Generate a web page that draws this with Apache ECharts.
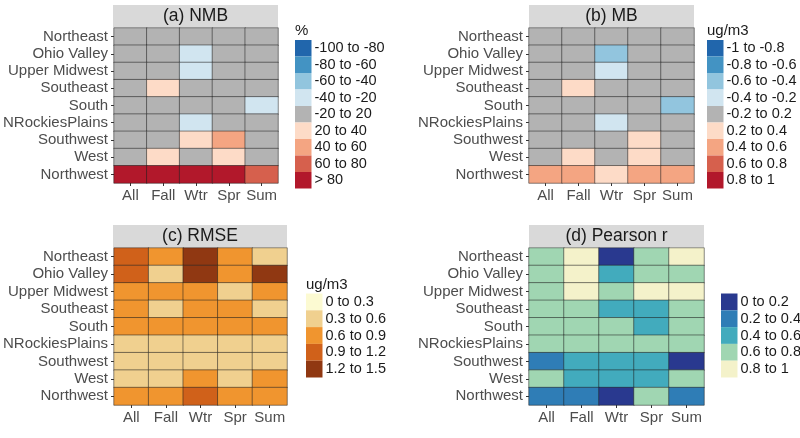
<!DOCTYPE html>
<html><head><meta charset="utf-8">
<script src="https://cdn.jsdelivr.net/npm/echarts@6/dist/echarts.min.js"></script>
<style>html,body{margin:0;padding:0;background:#fff}#c{width:800px;height:438px}</style>
</head><body><div id="c"></div>
<script>
// ---- data (rows: regions top->bottom, cols: seasons) ----
const regions = ['Northeast','Ohio Valley','Upper Midwest','Southeast','South','NRockiesPlains','Southwest','West','Northwest'];
const seasons = ['All','Fall','Wtr','Spr','Sum'];

// NMB (%), values estimated at bin midpoints
const nmbValues = [
  [0, 0, 0, 0, 0],
  [0, 0, -30, 0, 0],
  [0, 0, -30, 0, 0],
  [0, 30, 0, 0, 0],
  [0, 0, 0, 0, -30],
  [0, 0, -30, 0, 0],
  [0, 0, 30, 50, 0],
  [0, 30, 0, 30, 0],
  [90, 90, 90, 90, 70]
];
// MB (ug/m3)
const mbValues = [
  [0, 0, 0, 0, 0],
  [0, 0, -0.5, 0, 0],
  [0, 0, -0.3, 0, 0],
  [0, 0.3, 0, 0, 0],
  [0, 0, 0, 0, -0.5],
  [0, 0, -0.3, 0, 0],
  [0, 0, 0, 0.3, 0],
  [0, 0.3, 0, 0.3, 0],
  [0.5, 0.5, 0.3, 0.5, 0.5]
];
// RMSE (ug/m3)
const rmseValues = [
  [1.05, 0.75, 1.35, 0.75, 0.45],
  [1.05, 0.45, 1.35, 0.75, 1.35],
  [0.75, 0.75, 0.75, 0.45, 0.75],
  [0.75, 0.45, 0.75, 0.75, 0.45],
  [0.75, 0.75, 0.75, 0.75, 0.75],
  [0.45, 0.45, 0.45, 0.45, 0.45],
  [0.45, 0.45, 0.45, 0.45, 0.45],
  [0.45, 0.45, 0.75, 0.45, 0.75],
  [0.75, 0.75, 1.05, 0.75, 0.75]
];
// Pearson r
const rValues = [
  [0.7, 0.9, 0.1, 0.7, 0.9],
  [0.7, 0.9, 0.5, 0.7, 0.7],
  [0.7, 0.9, 0.7, 0.9, 0.9],
  [0.7, 0.7, 0.5, 0.5, 0.7],
  [0.7, 0.7, 0.7, 0.5, 0.7],
  [0.7, 0.7, 0.7, 0.7, 0.7],
  [0.3, 0.5, 0.5, 0.5, 0.1],
  [0.7, 0.5, 0.5, 0.5, 0.7],
  [0.3, 0.3, 0.1, 0.7, 0.3]
];

// ---- legend bins ----
const nmbEdges = [-100, -80, -60, -40, -20, 20, 40, 60, 80, Infinity];
const nmbLabels = ['-100 to -80','-80 to -60','-60 to -40','-40 to -20','-20 to 20','20 to 40','40 to 60','60 to 80','> 80'];
const mbEdges = [-1, -0.8, -0.6, -0.4, -0.2, 0.2, 0.4, 0.6, 0.8, 1];
const mbLabels = ['-1 to -0.8','-0.8 to -0.6','-0.6 to -0.4','-0.4 to -0.2','-0.2 to 0.2','0.2 to 0.4','0.4 to 0.6','0.6 to 0.8','0.8 to 1'];
const divColors = ['#2166AC','#4393C3','#92C5DE','#D1E5F0','#B3B3B3','#FDDBC7','#F4A582','#D6604D','#B2182B'];
const rmseEdges = [0, 0.3, 0.6, 0.9, 1.2, 1.5];
const rmseLabels = ['0 to 0.3','0.3 to 0.6','0.6 to 0.9','0.9 to 1.2','1.2 to 1.5'];
const rmseColors = ['#FCFAD2','#F0D08F','#F0952F','#D0611A','#903812'];
const rEdges = [0, 0.2, 0.4, 0.6, 0.8, 1];
const rLabels = ['0 to 0.2','0.2 to 0.4','0.4 to 0.6','0.6 to 0.8','0.8 to 1'];
const rColors = ['#29398F','#2F7DB6','#42ABBD','#A0D6B2','#F4F2CA'];

const FONT = '"Liberation Sans", Arial, Helvetica, sans-serif';

function makePieces(edges, labels, colors) {
  return labels.map((lab, i) => {
    const p = { label: lab, color: colors[i], gte: edges[i] };
    if (isFinite(edges[i + 1])) p.lt = edges[i + 1];
    return p;
  });
}
function toCells(mat) {
  const out = [];
  mat.forEach((row, yi) => row.forEach((v, xi) => out.push([xi, yi, v])));
  return out;
}

const panels = [
  { title: '(a) NMB', values: nmbValues, pieces: makePieces(nmbEdges, nmbLabels, divColors),
    grid: { left: 113, top: 28, width: 165, height: 155 },
    leg: { left: 295, top: 40, ih: 16.5 }, legTitle: { text: '%', x: 295, y: 31 } },
  { title: '(b) MB', values: mbValues, pieces: makePieces(mbEdges, mbLabels, divColors),
    grid: { left: 529, top: 28, width: 165, height: 155 },
    leg: { left: 707, top: 40, ih: 16.5 }, legTitle: { text: 'ug/m3', x: 707, y: 31 } },
  { title: '(c) RMSE', values: rmseValues, pieces: makePieces(rmseEdges, rmseLabels, rmseColors),
    grid: { left: 113, top: 248, width: 174, height: 157 },
    leg: { left: 306, top: 293.5, ih: 16.8 }, legTitle: { text: 'ug/m3', x: 306, y: 285 } },
  { title: '(d) Pearson r', values: rValues, pieces: makePieces(rEdges, rLabels, rColors),
    grid: { left: 529, top: 248, width: 175, height: 157 },
    leg: { left: 721, top: 293.5, ih: 16.8 }, legTitle: null }
];

const option = {
  animation: false,
  backgroundColor: '#ffffff',
  textStyle: { fontFamily: FONT },
  grid: [], xAxis: [], yAxis: [], series: [], visualMap: [], graphic: []
};

panels.forEach((p, i) => {
  option.grid.push(Object.assign({ containLabel: false }, p.grid));
  option.xAxis.push({
    type: 'category', gridIndex: i, data: seasons, position: 'bottom',
    axisLine: { show: false },
    axisTick: { show: true, alignWithLabel: true, length: 3, lineStyle: { color: '#333333', width: 1 } },
    axisLabel: { color: '#4D4D4D', fontSize: 15, fontFamily: FONT, margin: 5, interval: 0 },
    splitLine: { show: false }
  });
  option.yAxis.push({
    type: 'category', gridIndex: i, data: regions, inverse: true,
    axisLine: { show: false },
    axisTick: { show: true, alignWithLabel: true, length: 3, lineStyle: { color: '#333333', width: 1 } },
    axisLabel: { color: '#4D4D4D', fontSize: 15, fontFamily: FONT, margin: 6, interval: 0 },
    splitLine: { show: false }
  });
  option.series.push({
    type: 'heatmap', xAxisIndex: i, yAxisIndex: i, data: toCells(p.values),
    itemStyle: { borderColor: 'rgba(30,30,30,0.75)', borderWidth: 0.7 },
    emphasis: { disabled: true }
  });
  option.visualMap.push({
    type: 'piecewise', seriesIndex: i, dimension: 2, pieces: p.pieces,
    orient: 'vertical', inverse: true, align: 'left', left: p.leg.left, top: p.leg.top,
    padding: 0, itemGap: 0, itemWidth: 16.5, itemHeight: p.leg.ih, itemSymbol: 'rect',
    textGap: 3, selectedMode: false, hoverLink: false,
    textStyle: { color: '#1A1A1A', fontSize: 14.5, fontFamily: FONT }
  });
  // facet strip
  option.graphic.push({
    type: 'rect', shape: { x: p.grid.left, y: p.grid.top - 23, width: p.grid.width, height: 22.3 },
    silent: true, style: { fill: '#D9D9D9' }
  });
  option.graphic.push({
    type: 'text', x: p.grid.left + p.grid.width / 2, y: p.grid.top - 12, silent: true,
    style: { text: p.title, fill: '#1A1A1A', fontSize: 17.5, fontFamily: FONT, align: 'center', verticalAlign: 'middle' }
  });
  if (p.legTitle) {
    option.graphic.push({
      type: 'text', x: p.legTitle.x, y: p.legTitle.y, silent: true,
      style: { text: p.legTitle.text, fill: '#1A1A1A', fontSize: 15, fontFamily: FONT, align: 'left', verticalAlign: 'middle' }
    });
  }
});

const chart = echarts.init(document.getElementById('c'), null, { renderer: 'canvas' });
chart.setOption(option);
</script>
</body></html>
